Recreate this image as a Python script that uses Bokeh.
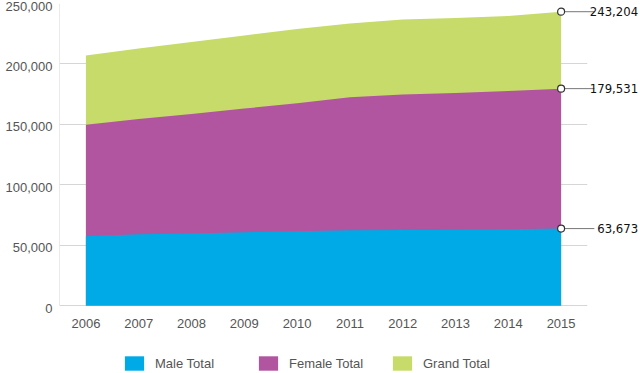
from bokeh.plotting import figure
from bokeh.models import ColumnDataSource, Legend, LegendItem, FixedTicker, Range1d
from bokeh.core.properties import value
from bokeh.embed import file_html
from bokeh.resources import INLINE

# ---- data ----
years = [2006, 2007, 2008, 2009, 2010, 2011, 2012, 2013, 2014, 2015]
male_total = [57400, 58900, 59700, 60600, 61400, 62200, 62500, 62800, 63100, 63673]
female_total = [149600, 154400, 158600, 163000, 167500, 172300, 174700, 175900, 177600, 179531]
grand_total = [206900, 212700, 218100, 223500, 228900, 233400, 236800, 238000, 239600, 243204]
series_names = ["Male Total", "Female Total", "Grand Total"]
y_ticks = [0, 50000, 100000, 150000, 200000, 250000]
y_tick_labels = ["0", "50,000", "100,000", "150,000", "200,000", "250,000"]
x_tick_labels = [str(y) for y in years]

# ---- style / layout ----
C_MALE = "#00aae6"
C_FEMALE = "#b155a0"
C_GRAND = "#c6db6a"
GRID = "#d6d6d6"
TXT = "#555555"
FONT = "Liberation Sans"
NARROW = "DejaVu Sans Condensed, Liberation Sans Narrow, Roboto Condensed, Roboto"
W, H = 640, 373
TOP, LEFT, RIGHT = 3, 59, 53
PLOT_PX = 302            # pixel height of the 0..max value band
FRAME_PX = H - TOP       # frame runs to the bottom so the legend below is not clipped
y_start = -y_ticks[-1] * (FRAME_PX - PLOT_PX) / PLOT_PX

src = ColumnDataSource(dict(x=years, male=male_total, female=female_total, grand=grand_total))

p = figure(width=W, height=H,
           x_range=Range1d(years[0] - 0.5, years[-1] + 0.5),
           y_range=Range1d(y_start, y_ticks[-1]),
           output_backend="svg", toolbar_location=None,
           min_border_left=LEFT, min_border_right=RIGHT,
           min_border_top=TOP, min_border_bottom=0,
           outline_line_color=None)
p.xaxis.visible = False
p.yaxis.visible = False
p.xgrid.visible = False

r_grand = p.varea(x="x", y1=0, y2="grand", source=src, fill_color=C_GRAND)
r_female = p.varea(x="x", y1=0, y2="female", source=src, fill_color=C_FEMALE)
r_male = p.varea(x="x", y1=0, y2="male", source=src, fill_color=C_MALE)

# horizontal gridlines at the y ticks (the 0 line doubles as the x baseline)
p.ygrid.ticker = FixedTicker(ticks=y_ticks)
p.ygrid.grid_line_color = GRID
p.ygrid.level = "underlay"
# left axis line
p.segment(x0=[years[0] - 0.5], y0=[y_ticks[0]], x1=[years[0] - 0.5], y1=[y_ticks[-1]],
          line_color=GRID, line_width=1, level="underlay")

# y tick labels, hung just below each gridline
p.text(x=[years[0] - 0.5] * len(y_ticks), y=y_ticks, text=y_tick_labels,
       x_offset=-7, y_offset=-2, text_align="right", text_baseline="top",
       text_font=value(FONT), text_font_size="13px", text_color=TXT, level="overlay")

# x tick labels under the baseline
p.text(x=years, y=[y_ticks[0]] * len(years), text=x_tick_labels,
       y_offset=13, text_align="center", text_baseline="top",
       text_font=value(FONT), text_font_size="13px", text_color=TXT, level="overlay")

# end-of-series callouts
last_vals = [grand_total[-1], female_total[-1], male_total[-1]]
last_x = [years[-1]] * 3
p.segment(x0=last_x, y0=last_vals, x1=[years[-1] + 0.63] * 3, y1=last_vals,
          line_color="#777777", line_width=1, level="overlay")
p.scatter(x=last_x, y=last_vals, size=7, fill_color="white", line_color="#333333",
          line_width=1.2, level="overlay")
p.text(x=last_x, y=last_vals, text=[f"{v:,}" for v in last_vals], x_offset=77,
       text_align="right", text_baseline="middle",
       text_font=value(NARROW), text_font_size="13px",
       text_color="#111111", level="overlay")

legend = Legend(items=[LegendItem(label=series_names[0], renderers=[r_male]),
                       LegendItem(label=series_names[1], renderers=[r_female]),
                       LegendItem(label=series_names[2], renderers=[r_grand])],
                orientation="horizontal", location=(63, 1),
                glyph_width=24, glyph_height=18, label_standoff=9,
                label_width=80, spacing=21, padding=0, margin=0,
                border_line_color=None, background_fill_alpha=0,
                label_text_font=FONT, label_text_font_size="13px",
                label_text_color=TXT, label_height=18)
p.add_layout(legend, "center")

open("out.html", "w").write(file_html(p, INLINE))
